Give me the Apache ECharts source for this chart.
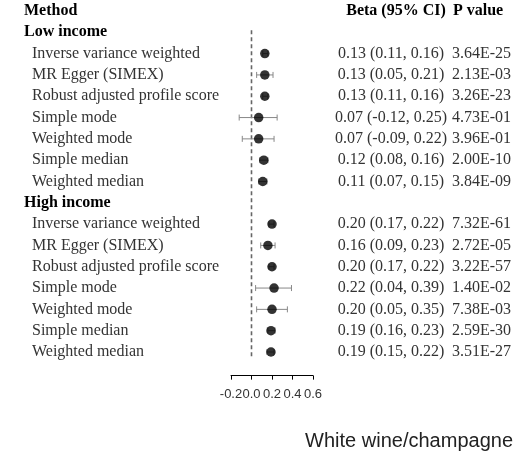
<!DOCTYPE html>
<html>
<head>
<meta charset="utf-8">
<script src="https://cdn.jsdelivr.net/npm/echarts@6/dist/echarts.min.js"></script>
<style>
  html, body { margin: 0; padding: 0; background: #fff; }
  #chart { width: 527px; height: 454px; }
</style>
</head>
<body>
<div id="chart"></div>
<script>
// Mendelian randomisation estimates by income group
const methods = [
  'Inverse variance weighted',
  'MR Egger (SIMEX)',
  'Robust adjusted profile score',
  'Simple mode',
  'Weighted mode',
  'Simple median',
  'Weighted median'
];
const groups = ['Low income', 'High income'];

const lowBeta = [0.13, 0.13, 0.13, 0.07, 0.07, 0.12, 0.11];
const lowLower = [0.11, 0.05, 0.11, -0.12, -0.09, 0.08, 0.07];
const lowUpper = [0.16, 0.21, 0.16, 0.25, 0.22, 0.16, 0.15];
const lowP = ['3.64E-25', '2.13E-03', '3.26E-23', '4.73E-01', '3.96E-01', '2.00E-10', '3.84E-09'];

const highBeta = [0.20, 0.16, 0.20, 0.22, 0.20, 0.19, 0.19];
const highLower = [0.17, 0.09, 0.17, 0.04, 0.05, 0.16, 0.15];
const highUpper = [0.22, 0.23, 0.22, 0.39, 0.35, 0.23, 0.22];
const highP = ['7.32E-61', '2.72E-05', '3.22E-57', '1.40E-02', '7.38E-03', '2.59E-30', '3.51E-27'];

const xTicks = [-0.2, 0.0, 0.2, 0.4, 0.6];
const refValue = 0;
const title = 'White wine/champagne';

// Build the table rows: header, then each group followed by its methods
const groupData = [
  { beta: lowBeta, lower: lowLower, upper: lowUpper, p: lowP },
  { beta: highBeta, lower: highLower, upper: highUpper, p: highP }
];
const rows = [{ kind: 'header', label: 'Method' }];
groups.forEach((g, gi) => {
  rows.push({ kind: 'group', label: g });
  methods.forEach((m, mi) => {
    const d = groupData[gi];
    rows.push({
      kind: 'item', label: m,
      beta: d.beta[mi], lower: d.lower[mi], upper: d.upper[mi], p: d.p[mi]
    });
  });
});

const rowNames = rows.map(r => r.label);
const pointData = [];
const ciData = [];
rows.forEach((r, i) => {
  if (r.kind === 'item') {
    pointData.push([r.beta, i]);
    ciData.push([r.lower, r.upper, i]);
  }
});
const firstRow = 1, lastRow = rows.length - 1;

const fmt = v => v.toFixed(2);
const serif = 'Liberation Serif';

const chart = echarts.init(document.getElementById('chart'));
chart.setOption({
  animation: false,
  backgroundColor: '#fff',
  title: {
    text: title,
    right: 14,
    top: 431,
    padding: 0,
    textStyle: { fontFamily: 'Liberation Sans', fontSize: 20, fontWeight: 'normal', color: '#222' }
  },
  grid: { left: 231, right: 214, top: 0.34, height: 362.3, containLabel: false },
  xAxis: {
    type: 'value',
    min: -0.2, max: 0.6, interval: 0.2,
    offset: 13,
    splitLine: { show: false },
    axisLine: { show: true, lineStyle: { color: '#000', width: 1 } },
    axisTick: { show: true, length: 4, lineStyle: { color: '#000' } },
    axisLabel: {
      margin: 12,
      fontFamily: 'Liberation Sans', fontSize: 13, color: '#333',
      formatter: v => (xTicks.some(t => Math.abs(t - v) < 1e-9) ? v.toFixed(1) : '')
    }
  },
  yAxis: [
    {
      type: 'category', data: rowNames, inverse: true, position: 'left',
      axisLine: { show: false }, axisTick: { show: false }, splitLine: { show: false },
      axisLabel: {
        margin: 207, align: 'left', interval: 0,
        formatter: (v, i) => rows[i].kind === 'item' ? '{it|' + v + '}' : '{hd|' + v + '}',
        rich: {
          hd: { fontFamily: serif, fontSize: 16, fontWeight: 'bold', color: '#000' },
          it: { fontFamily: serif, fontSize: 16, color: '#333', padding: [0, 0, 0, 8] }
        }
      }
    },
    {
      type: 'category', data: rowNames, inverse: true, position: 'right',
      axisLine: { show: false }, axisTick: { show: false }, splitLine: { show: false },
      axisLabel: {
        margin: 22, align: 'left', interval: 0,
        formatter: (v, i) => {
          const r = rows[i];
          if (r.kind === 'header') return '{hb|Beta (95% CI)}{hp|P value}';
          if (r.kind === 'group') return '';
          return '{b|' + fmt(r.beta) + ' (' + fmt(r.lower) + ', ' + fmt(r.upper) + ')}{p|' + r.p + '}';
        },
        rich: {
          hb: { fontFamily: serif, fontSize: 16, fontWeight: 'bold', color: '#000', width: 102, align: 'center', padding: [0, 0, 0, 10] },
          hp: { fontFamily: serif, fontSize: 16, fontWeight: 'bold', color: '#000', padding: [0, 0, 0, 6] },
          b: { fontFamily: serif, fontSize: 16, color: '#333', width: 112, align: 'center' },
          p: { fontFamily: serif, fontSize: 16, color: '#333', padding: [0, 0, 0, 5] }
        }
      }
    }
  ],
  series: [
    {
      // dashed reference line at zero
      type: 'custom',
      yAxisIndex: 0,
      data: [[refValue, firstRow, lastRow]],
      encode: { x: 0, y: [1, 2] },
      renderItem: (params, api) => {
        const a = api.coord([api.value(0), api.value(1)]);
        const b = api.coord([api.value(0), api.value(2)]);
        return {
          type: 'line',
          shape: { x1: a[0], y1: a[1] - 2, x2: b[0], y2: b[1] + 5 },
          style: { stroke: '#666', lineWidth: 1.6, lineDash: [4, 3] }
        };
      },
      silent: true, z: 1
    },
    {
      // 95% confidence intervals with end caps
      type: 'custom',
      yAxisIndex: 0,
      data: ciData,
      encode: { x: [0, 1], y: 2 },
      renderItem: (params, api) => {
        const l = api.coord([api.value(0), api.value(2)]);
        const h = api.coord([api.value(1), api.value(2)]);
        const c = 3;
        const st = { stroke: '#888', lineWidth: 1 };
        return {
          type: 'group',
          children: [
            { type: 'line', shape: { x1: l[0], y1: l[1], x2: h[0], y2: h[1] }, style: st },
            { type: 'line', shape: { x1: l[0], y1: l[1] - c, x2: l[0], y2: l[1] + c }, style: st },
            { type: 'line', shape: { x1: h[0], y1: h[1] - c, x2: h[0], y2: h[1] + c }, style: st }
          ]
        };
      },
      silent: true, z: 2
    },
    {
      type: 'scatter',
      yAxisIndex: 0,
      data: pointData,
      symbol: 'circle',
      symbolSize: 9.5,
      itemStyle: { color: '#000' },
      silent: true, z: 3
    }
  ]
});
</script>
</body>
</html>
